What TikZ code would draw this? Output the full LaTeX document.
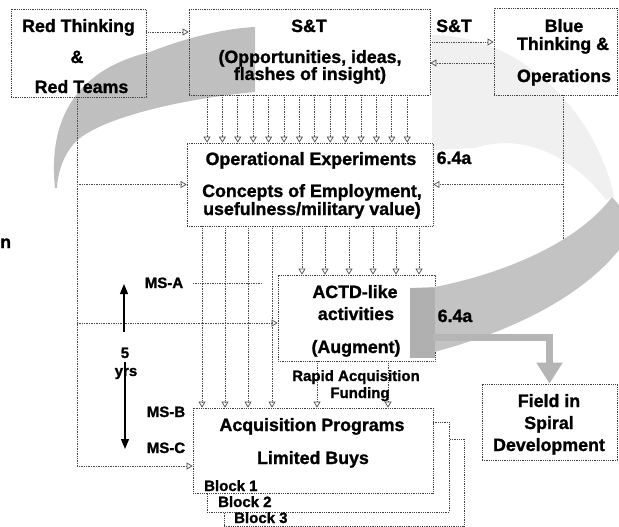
\documentclass[tikz,border=0pt]{standalone}
\usepackage{fontspec}
\setmainfont{Liberation Sans}[BoldFont={Liberation Sans Bold},BoldFeatures={FakeBold=1.2}]
\usetikzlibrary{arrows.meta,calc}
\begin{document}
\begin{tikzpicture}[x=1pt,y=-1pt,
  box/.style={draw=black!75, densely dotted, line width=0.8pt, inner sep=0pt},
  conn/.style={draw=black!70, densely dotted, line width=0.7pt, -{Triangle[open,length=6pt,width=7pt]}},
  plain/.style={draw=black!70, densely dotted, line width=0.7pt},
  big/.style={anchor=base, inner sep=0pt, font=\bfseries\fontsize{17.8}{18}\selectfont},
  small/.style={anchor=base, inner sep=0pt, font=\bfseries\fontsize{15}{15}\selectfont},
  timearrow/.style={line width=1.2pt, -{Triangle[length=10pt,width=8pt]}},
]
\useasboundingbox (0,0) rectangle (619,527);

% ---- swirl (grey spiral arrow) ----
\fill[gray!12] (432,35) .. controls (520,35) and (595,110) .. (614,196) -- (606,200)
  .. controls (580,165) and (530,130) .. (475,148) -- (432,150) -- cycle;
\fill[gray!50] (55,188) .. controls (48,120) and (75,70) .. (150,52)
  .. controls (190,36) and (230,28) .. (255,27) -- (255,92)
  .. controls (190,98) and (110,115) .. (80,138)
  .. controls (65,150) and (58,170) .. (57,188) -- cycle;

% ---- boxes ----
\node[box, minimum width=135pt, minimum height=88pt] (red) at (78.5,53) {};
\node[box, minimum width=241pt, minimum height=86pt] (st) at (309.5,52) {};
\node[box, minimum width=123pt, minimum height=87pt] (blue) at (555.5,51.5) {};
\node[box, minimum width=246pt, minimum height=83pt] (opx) at (310,184.5) {};
\node[box, minimum width=157pt, minimum height=86pt] (actd) at (356.5,318) {};
\node[box, minimum width=135pt, minimum height=76pt] (field) at (549.5,422) {};
\node[box, fill=white, minimum width=240pt, minimum height=87pt] (blk3) at (344,482.5) {};
\node[box, fill=white, minimum width=242pt, minimum height=90pt] (blk2) at (328,467) {};
\node[box, fill=white, minimum width=240pt, minimum height=85pt] (acq) at (313,450.5) {};

% ---- connectors ----
\draw[conn] ([yshift=21pt]red.east) -- ([yshift=21pt]red.east -| st.west);
\draw[conn] ([yshift=10pt]st.east) -- ([yshift=10pt]st.east -| blue.west);
\draw[conn] ([yshift=-11pt]st.east -| blue.west) -- ([yshift=-11pt]st.east);
\foreach \i in {0,...,13}{
  \path (207+\i*15.4,0) coordinate (c);
  \draw[conn] (st.south -| c) -- (opx.north -| c);
}
\foreach \xx in {202,225,248,272}{
  \path (\xx,0) coordinate (c);
  \draw[conn] (opx.south -| c) -- (acq.north -| c);
}
\foreach \xx in {302,325,349,373,396,419}{
  \path (\xx,0) coordinate (c);
  \draw[conn] (opx.south -| c) -- (actd.north -| c);
}
\foreach \xx in {317,388}{
  \path (\xx,0) coordinate (c);
  \draw[conn] (actd.south -| c) -- (acq.north -| c);
}
% left feed line from Red
\coordinate (acqin) at ([yshift=-15.5pt]acq.west);
\coordinate (actdin) at ([yshift=-5pt]actd.west);
\draw[conn] ([xshift=-1.5pt]red.south) |- (acqin);
\draw[conn] ([xshift=-1.5pt]red.south |- opx.west) -- (opx.west);
\draw[conn] ([xshift=-1.5pt]red.south |- actdin) -- (actdin);
% feed line from Blue
\coordinate (blend) at (563,250);
\draw[plain] ([xshift=7.5pt]blue.south) -- (blend);
\draw[conn] (blend |- opx.east) -- (opx.east);
% MS-A line
\coordinate (msa1) at (193,283);
\coordinate (msa2) at (262,283);
\draw[plain] (msa1) -- (msa2);

% ---- lower swirl and grey arrow to field ----
\fill[gray!47] (612,197) .. controls (580,240) and (510,272) .. (435,287) -- (410,288)
  -- (410,358) .. controls (480,342) and (570,310) .. (619,250) -- (619,205) -- cycle;
\fill[gray!62] (410,288) rectangle (435,358);
\coordinate (ga) at (433,337.5);
\draw[line width=7pt, gray!58, line join=miter, -{Triangle[length=21pt,width=25pt]}] (ga) -| (field.north);

% ---- time arrows ----
\coordinate (up1) at (124,332);
\coordinate (up2) at (124,284);
\coordinate (dn1) at (125,362);
\coordinate (dn2) at (125,449);
\draw[timearrow] (up1) -- (up2);
\draw[timearrow] (dn1) -- (dn2);

% ---- texts ----
\node[big] (t1) at (78.5,32) {Red Thinking};
\node[big] (t2) at (77,63) {\&};
\node[big] (t3) at (81.5,93) {Red Teams};
\node[big] (t4) at (309,32) {S\&T};
\node[big] (t5) at (310,63) {(Opportunities, ideas,};
\node[big] (t6) at (310,80) {flashes of insight)};
\node[big] (t7) at (454,32) {S\&T};
\node[big] (t8) at (564,32) {Blue};
\node[big] (t9) at (563,50) {Thinking \&};
\node[big] (t10) at (564,82) {Operations};
\node[big] (t11) at (311,165) {Operational Experiments};
\node[big] (t12) at (312,197) {Concepts of Employment,};
\node[big] (t13) at (312,215) {usefulness/military value)};
\node[big] (t14) at (454,164) {6.4a};
\node[big] (t15) at (355,298) {ACTD-like};
\node[big] (t16) at (356,320) {activities};
\node[big] (t17) at (356,353) {(Augment)};
\node[big] (t18) at (455,322) {6.4a};
\node[small] (t19) at (356,381) {Rapid Acquisition};
\node[small] (t20) at (360,398) {Funding};
\node[small] (t21) at (164,288) {MS-A};
\node[small] (t22) at (125,358) {5};
\node[small] (t23) at (126,376) {yrs};
\node[small] (t24) at (166,417) {MS-B};
\node[small] (t25) at (166,453) {MS-C};
\node[big] (t26) at (312,431) {Acquisition Programs};
\node[big] (t27) at (313,464) {Limited Buys};
\node[small, anchor=base west] (t28) at (204,491) {Block 1};
\node[small, anchor=base west] (t29) at (218,507) {Block 2};
\node[small, anchor=base west] (t30) at (234,523) {Block 3};
\node[big] (t31) at (549,407) {Field in};
\node[big] (t32) at (549,429) {Spiral};
\node[big] (t33) at (549,451) {Development};
\node[big, anchor=base west] (t34) at (0,248) {n};
\end{tikzpicture}
\end{document}
